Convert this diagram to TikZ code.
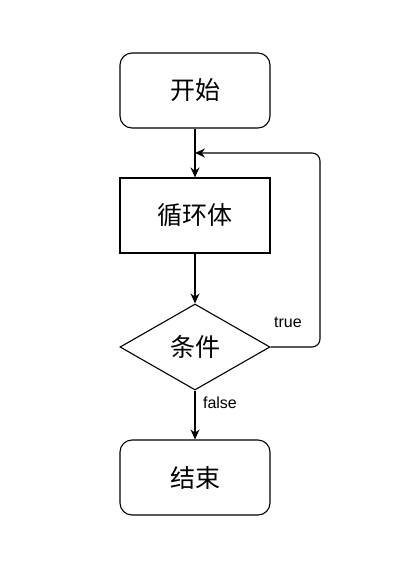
\documentclass[tikz,border=0pt]{standalone}
\usepackage{fontspec}
\setmainfont{Liberation Sans}
\newfontfamily\cjk{Noto Sans CJK SC}
\usetikzlibrary{shapes.geometric,arrows.meta}
\tikzset{
  cjkfont/.style={font=\cjk\fontsize{25}{28}\selectfont},
  rbox/.style={draw,line width=1.1pt,rounded corners=12pt,minimum width=150pt,minimum height=75pt,inner sep=0pt,cjkfont},
  sbox/.style={draw,line width=1.1pt,minimum width=150pt,minimum height=75pt,inner sep=0pt,cjkfont},
  dbox/.style={draw,line width=1.1pt,diamond,minimum width=150pt,minimum height=86pt,inner sep=0pt,aspect=1.744},
  conn/.style={draw,line width=1.1pt,-{Stealth[length=10pt,width=9pt]}},
  lbl/.style={font=\fontsize{16}{18}\selectfont,inner sep=0pt}
}
\begin{document}
\begin{tikzpicture}[x=1pt,y=-1pt]
\useasboundingbox (0,0) rectangle (412,579);
\node[rbox] (start) at (195,90.5) {开始};
\node[sbox] (body) at (195,215.5) {循环体};
\node[dbox] (cond) at (195,347) {};
\node[cjkfont] (condt) at (195,347) {条件};
\node[rbox] (end) at (195,477.5) {结束};
\coordinate (corner) at (320,153);
\coordinate (join) at (195,153);
\draw[conn] (start) -- (body);
\draw[conn] (body) -- (cond.north);
\draw[conn] (cond.south) -- (end);
\draw[conn,rounded corners=8pt] (cond.east) -| (corner) -- (join);
\node[lbl] (t) at (288,322) {true};
\node[lbl] (f) at (220,403) {false};
\end{tikzpicture}
\end{document}
